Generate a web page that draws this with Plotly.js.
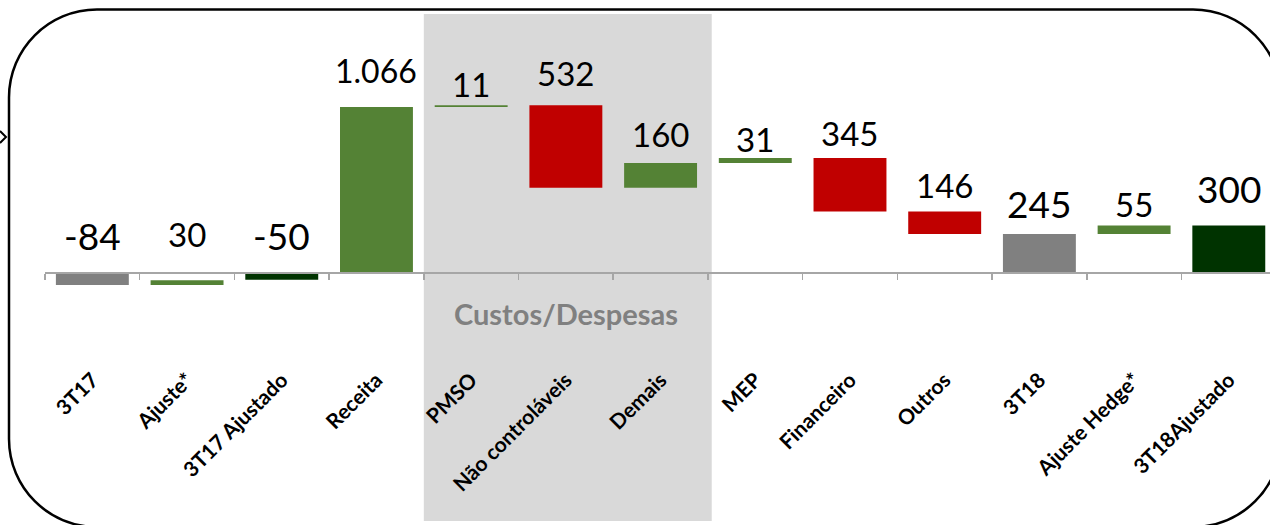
<!DOCTYPE html>
<html><head><meta charset="utf-8">
<script src="https://cdn.plot.ly/plotly-3.0.1.min.js"></script>
<style>html,body{margin:0;padding:0;background:#fff;overflow:hidden}#chart{width:1270px;height:525px}</style>
</head><body><div id="chart"></div>
<script>
// ---------- data ----------
const categories = ['3T17','Ajuste*','3T17 Ajustado','Receita','PMSO','Não controláveis','Demais','MEP','Financeiro','Outros','3T18','Ajuste Hedge*','3T18Ajustado'];
const values = [-84, 30, -50, 1066, 11, -532, 160, 31, -345, -146, 245, 55, 300];
const measures = ['absolute','relative','absolute','absolute','relative','relative','relative','relative','relative','relative','absolute','relative','absolute'];
const valueLabels = ['-84','30','-50','1.066','11','532','160','31','345','146','245','55','300'];
const groupLabel = 'Custos/Despesas';

// ---------- style ----------
const GRAY='#808080', GREEN='#548235', DKGREEN='#003300', RED='#C00000';
const barColors = [GRAY, GREEN, DKGREEN, GREEN, GREEN, RED, GREEN, GREEN, RED, RED, GRAY, GREEN, DKGREEN];
const labelSizes = [37,33,37,32,33,33,33,33,33,33,37,33,37];
const labelGap = [22,25,22,24,8,19,16,6,12,13,16,9,23];
const FONT = 'Lato, Carlito, Calibri, sans-serif';

const W=1270, H=525, L=45, R=0, T=14, B=0;
const PW=W-L-R, PH=H-T-B;
const pxX = p => (p-L)/PW;
const pxY = p => (H-B-p)/PH;

// running bases
let run=0; const bases=[];
for(let i=0;i<values.length;i++){
  if(measures[i]==='absolute'){ bases.push(0); run=values[i]; }
  else { bases.push(run); run+=values[i]; }
}

const yRange=[-1634.6, 1667];
const zeroPos=(0-yRange[0])/(yRange[1]-yRange[0]);

const trace={
  type:'bar', x:categories, y:values, base:bases,
  marker:{color:barColors, line:{width:0}},
  hoverinfo:'skip', showlegend:false
};

const annotations=categories.map((c,i)=>({
  x:c, y:Math.max(0,bases[i],bases[i]+values[i]), xref:'x', yref:'y',
  text:valueLabels[i], showarrow:false, yanchor:'bottom', xanchor:'center',
  yshift:labelGap[i]-Math.round(labelSizes[i]*0.27),
  font:{family:FONT,size:labelSizes[i],color:'#000'}
}));
annotations.push({
  x:5, y:pxY(313), xref:'x', yref:'paper', text:'<b>'+groupLabel+'</b>',
  showarrow:false, xanchor:'center', yanchor:'middle',
  font:{family:FONT,size:29,color:'#808080'}
});

// rounded border
const bx0=9, by0=9.5, bx1=1281, by1=527, r=88, k=0.5523*r;
function P(x,y){return pxX(x)+','+pxY(y);}
const borderPath='M '+P(bx0+r,by0)+' L '+P(bx1-r,by0)+
 ' C '+P(bx1-r+k,by0)+' '+P(bx1,by0+r-k)+' '+P(bx1,by0+r)+
 ' L '+P(bx1,by1-r)+
 ' C '+P(bx1,by1-r+k)+' '+P(bx1-r+k,by1)+' '+P(bx1-r,by1)+
 ' L '+P(bx0+r,by1)+
 ' C '+P(bx0+r-k,by1)+' '+P(bx0,by1-r+k)+' '+P(bx0,by1-r)+
 ' L '+P(bx0,by0+r)+
 ' C '+P(bx0,by0+r-k)+' '+P(bx0+r-k,by0)+' '+P(bx0+r,by0)+' Z';

const shapes=[
  {type:'rect', xref:'x', yref:'paper', x0:3.5, x1:6.54, y0:pxY(521), y1:1,
   fillcolor:'#d9d9d9', line:{width:0}, layer:'below'},
  {type:'path', xref:'paper', yref:'paper', path:borderPath, line:{color:'#000',width:2.5}},
  {type:'path', xref:'paper', yref:'paper', path:'M '+P(0,131)+' L '+P(6,137)+' L '+P(0,143),
   line:{color:'#000',width:2}}
];

const layout={
  width:W, height:H, margin:{l:L,r:R,t:T,b:B,pad:0},
  paper_bgcolor:'#fff', plot_bgcolor:'rgba(0,0,0,0)',
  bargap:0.23, showlegend:false,
  font:{family:FONT},
  xaxis:{type:'category', range:[-0.5,12.435], anchor:'free', position:zeroPos,
    showline:true, linecolor:'#a6a6a6', linewidth:1.5,
    ticks:'outside', tickson:'boundaries', ticklen:6, tickcolor:'#a6a6a6', tickwidth:1.5,
    tickangle:-45, ticklabelstandoff:86,
    tickfont:{family:FONT,size:21,color:'#000',weight:700},
    showgrid:false, zeroline:false, fixedrange:true},
  yaxis:{range:yRange, showgrid:false, zeroline:false, showticklabels:false, showline:false, ticks:'', fixedrange:true},
  annotations:annotations, shapes:shapes
};

Plotly.newPlot('chart',[trace],layout,{displayModeBar:false,staticPlot:true});
</script></body></html>
